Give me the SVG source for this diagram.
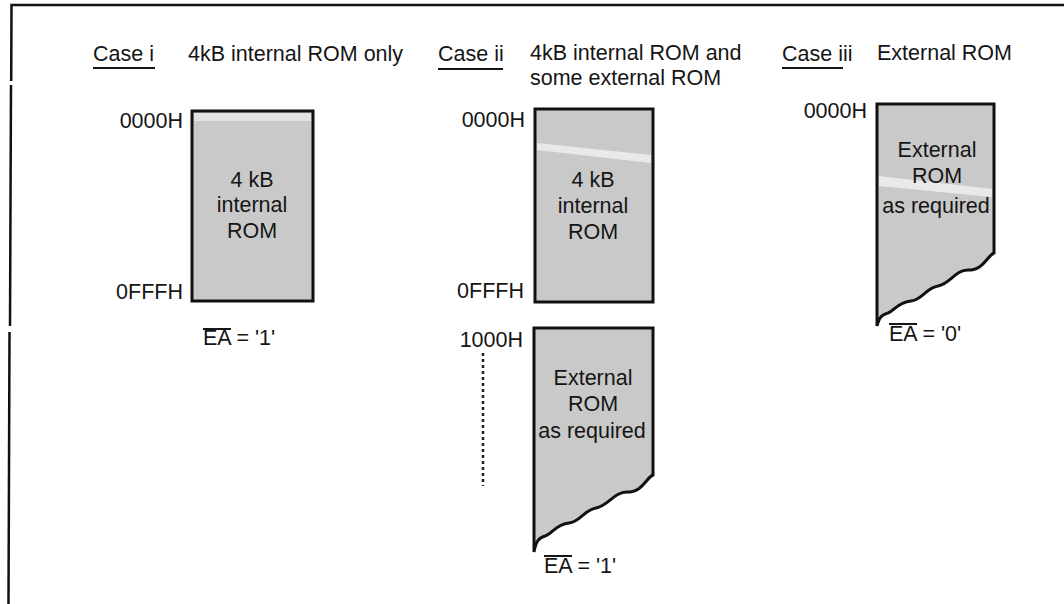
<svg xmlns="http://www.w3.org/2000/svg" width="1064" height="604" viewBox="0 0 1064 604">
<style>
text{font-family:"Liberation Sans",Arial,sans-serif;font-size:21.5px;fill:#151515}
.mid{text-anchor:middle}
.end{text-anchor:end}
.box{fill:#c9c9c9;stroke:#111;stroke-width:3;stroke-linejoin:miter}
.ul{stroke:#151515;stroke-width:2;fill:none}
.streak{fill:#ececec}
</style>
<rect width="1064" height="604" fill="#fff"/>
<g id="frame" fill="none" stroke="#111" stroke-width="2.5">
<path d="M1064,5 L11.5,5 L11.2,81"/>
<path d="M11,85 L10,326"/>
<path d="M9.5,332 L8.5,604"/>
</g>
<g id="case-i">
<text x="93" y="61">Case i</text>
<line class="ul" x1="93" y1="68" x2="155" y2="68"/>
<text x="188" y="61">4kB internal ROM only</text>
</g>
<g id="case-ii">
<text x="438" y="61">Case ii</text>
<line class="ul" x1="438" y1="69" x2="503" y2="69"/>
<text x="530" y="60">4kB internal ROM and</text>
<text x="530" y="85">some external ROM</text>
</g>
<g id="case-iii">
<text x="782" y="61">Case iii</text>
<line class="ul" x1="782" y1="68" x2="843" y2="68"/>
<text x="877" y="60">External ROM</text>
</g>
<g id="rom-i">
<rect class="box" x="192" y="111" width="121" height="190"/>
<rect class="streak" x="194" y="113" width="117" height="8" opacity="0.7"/>
<text class="mid" x="252" y="187">4 kB</text>
<text class="mid" x="252" y="212">internal</text>
<text class="mid" x="252" y="238">ROM</text>
<text class="end" x="183" y="128">0000H</text>
<text class="end" x="183" y="299">0FFFH</text>
</g>
<g id="ea-i">
<text x="203" y="345">EA = '1'</text>
<line x1="203" y1="329" x2="231" y2="329" stroke="#151515" stroke-width="2"/>
</g>
<g id="rom-ii-internal">
<rect class="box" x="535" y="109" width="118" height="193"/>
<polygon class="streak" points="537,143 651,155 651,163 537,150" opacity="0.9"/>
<text class="mid" x="593" y="187">4 kB</text>
<text class="mid" x="593" y="213">internal</text>
<text class="mid" x="593" y="239">ROM</text>
<text class="end" x="525" y="127">0000H</text>
<text class="end" x="524" y="298">0FFFH</text>
</g>
<g id="rom-ii-external">
<path class="box" d="M534,328 L653,328 L653,475 C646,478 643,492 627,492 C614,492 608,506 596,508 C584,510 580,522 569,523 C556,524 552,534 545,536 C538,538 536,542 534,552 Z"/>
<text class="mid" x="593" y="385">External</text>
<text class="mid" x="593" y="411">ROM</text>
<text class="mid" x="592" y="438">as required</text>
<text class="end" x="523" y="347">1000H</text>
<line x1="483" y1="353" x2="483" y2="486" stroke="#222" stroke-width="2.5" stroke-dasharray="3 3"/>
</g>
<g id="ea-ii">
<text x="544" y="573">EA = '1'</text>
<line x1="544" y1="556" x2="572" y2="556" stroke="#151515" stroke-width="2"/>
</g>
<g id="rom-iii">
<path class="box" d="M877,104 L994,104 L994,253 C987,256 984,270 968,270 C955,270 950,284 938,286 C926,288 922,300 911,301 C898,302 894,311 888,313 C881,315 879,318 877,326 Z"/>
<polygon class="streak" points="879,176 992,189 992,197 879,186" opacity="0.9"/>
<text class="mid" x="937" y="157">External</text>
<text class="mid" x="937" y="183">ROM</text>
<text class="mid" x="936" y="213">as required</text>
<text class="end" x="867" y="118">0000H</text>
</g>
<g id="ea-iii">
<text x="889" y="341">EA = '0'</text>
<line x1="889" y1="324" x2="917" y2="324" stroke="#151515" stroke-width="2"/>
</g>
<g id="connectors"></g>
</svg>
